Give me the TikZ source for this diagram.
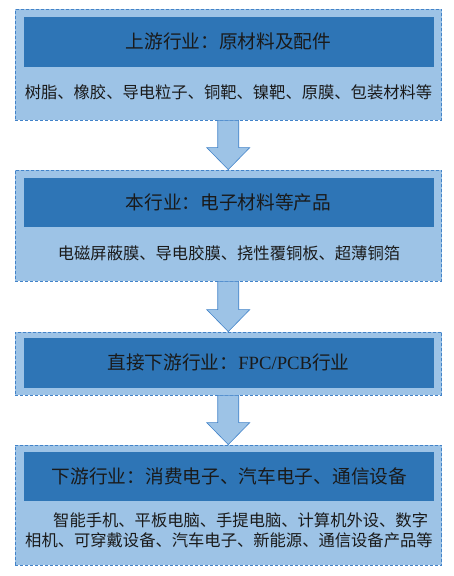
\documentclass[tikz,border=0pt]{standalone}
\usepackage{fontspec}
\newfontfamily\cjk{Noto Sans CJK SC}
\newfontfamily\latf{Liberation Serif}
\usetikzlibrary{calc}
\definecolor{outerblue}{HTML}{9DC3E6}
\definecolor{innerblue}{HTML}{2E75B6}
\definecolor{edgeblue}{HTML}{4283C9}
\definecolor{txt}{HTML}{1A1A1A}
\tikzset{
  outerbox/.style={draw=edgeblue, fill=outerblue, line width=0.8pt, dash pattern=on 3pt off 2pt, minimum width=426.5pt, inner sep=0pt},
  innerbox/.style={draw=outerblue, fill=innerblue, line width=0.6pt, minimum width=411pt, inner sep=0pt},
  titletxt/.style={inner sep=0pt, text=txt, font=\fontsize{18.7}{22}\selectfont\cjk},
  subtxt/.style={inner sep=0pt, text=txt, font=\fontsize{16.3}{20}\selectfont\cjk},
  blockarrow/.style={draw=edgeblue, fill=outerblue, line width=0.6pt, line join=miter}
}
\begin{document}
\begin{tikzpicture}[x=1pt,y=1pt]
\useasboundingbox (0,0) rectangle (453,576);
% box 1
\node[outerbox, minimum height=110.5pt] (o1) at (228.25,511.25) {};
\node[innerbox, minimum height=51pt] (i1) at (228.5,534.5) {};
\node[titletxt] (t1) at (228.5,534.5) {上游行业：原材料及配件};
\node[subtxt] (s1) at (228.5,484) {树脂、橡胶、导电粒子、铜靶、镍靶、原膜、包装材料等};
% box 2
\node[outerbox, minimum height=111pt] (o2) at (228.25,350.5) {};
\node[innerbox, minimum height=50pt] (i2) at (228.5,374) {};
\node[titletxt] (t2) at (228.5,374) {本行业：电子材料等产品};
\node[subtxt] (s2) at (229,323) {电磁屏蔽膜、导电胶膜、挠性覆铜板、超薄铜箔};
% box 3
\node[outerbox, minimum height=63pt] (o3) at (228.25,212.5) {};
\node[innerbox, minimum height=51pt] (i3) at (228.5,213.5) {};
\node[titletxt] (t3) at (228.5,213.5) {直接下游行业：{\latf FPC/PCB}行业};
% box 4
\node[outerbox, minimum height=120pt] (o4) at (228.25,71) {};
\node[innerbox, minimum height=50pt] (i4) at (228.5,100) {};
\node[titletxt] (t4) at (229.5,100) {下游行业：消费电子、汽车电子、通信设备};
\node[subtxt, anchor=west] (s4a) at (53,56) {智能手机、平板电脑、手提电脑、计算机外设、数字};
\node[subtxt, anchor=west] (s4b) at (25,36) {相机、可穿戴设备、汽车电子、新能源、通信设备产品等};
% arrows
\foreach \a/\b in {o1/o2, o2/o3, o3/o4}{
  \draw[blockarrow] let \p1=(\a.south), \p2=(\b.north) in
    (\x1-10.5pt,\y1) -- (\x1-10.5pt,\y2+22pt) -- (\x1-21.5pt,\y2+22pt) -- (\x1,\y2)
    -- (\x1+21.5pt,\y2+22pt) -- (\x1+10.5pt,\y2+22pt) -- (\x1+10.5pt,\y1) -- cycle;
}
\end{tikzpicture}
\end{document}
